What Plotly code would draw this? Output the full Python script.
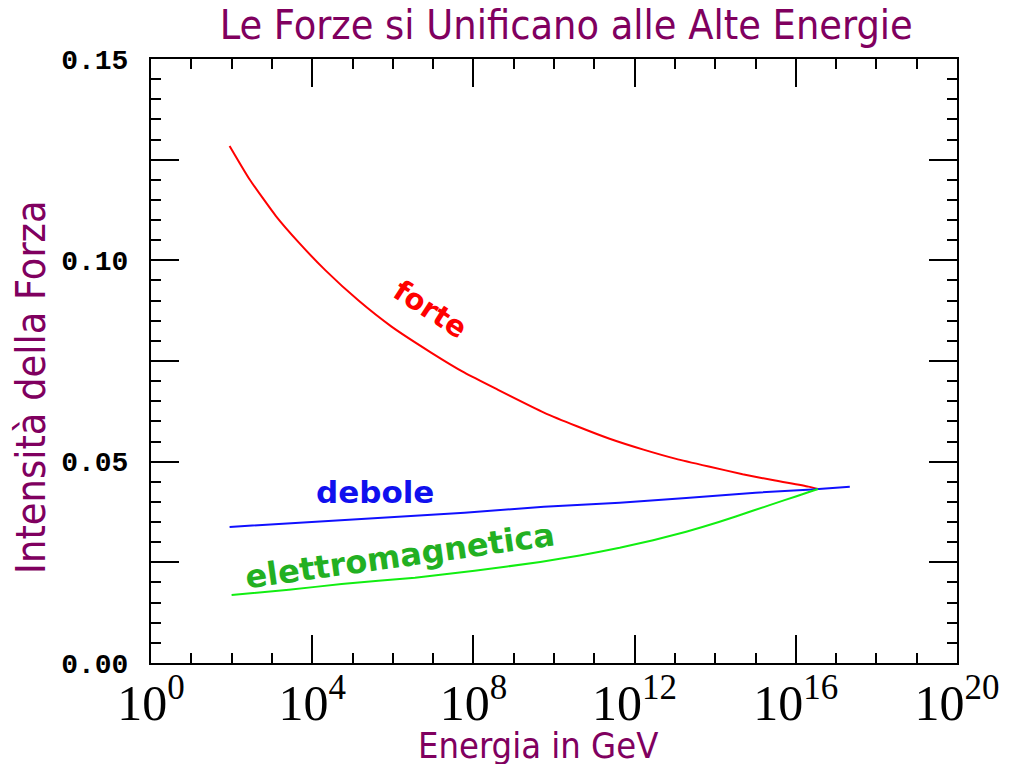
import plotly.graph_objects as go

# Energy (log10 GeV) and coupling strength readings
forte_logE = [1.95, 2.44, 3.10, 3.67, 4.33, 5.15, 5.96, 6.95, 7.78, 8.60, 9.75, 10.57, 11.38, 12.22, 13.03, 13.84, 14.68, 15.49, 16.31, 16.55]
forte_val = [0.1284, 0.1202, 0.1110, 0.1044, 0.0975, 0.0900, 0.0836, 0.0771, 0.0721, 0.0679, 0.0622, 0.0588, 0.0557, 0.0530, 0.0507, 0.0488, 0.0469, 0.0453, 0.0438, 0.0432]

debole_logE = [1.95, 3.67, 5.71, 7.78, 9.75, 11.63, 13.28, 15.00, 16.40, 17.34]
debole_val = [0.0338, 0.0348, 0.0361, 0.0373, 0.0388, 0.0398, 0.0410, 0.0423, 0.0431, 0.0438]

elettro_logE = [2.00, 3.42, 4.73, 6.55, 8.03, 9.66, 10.64, 11.63, 12.46, 13.28, 14.09, 14.93, 15.74, 16.31, 16.55]
elettro_val = [0.0169, 0.0182, 0.0196, 0.0212, 0.0229, 0.0251, 0.0267, 0.0286, 0.0305, 0.0326, 0.0350, 0.0378, 0.0405, 0.0424, 0.0432]

x_tick_exps = [0, 4, 8, 12, 16, 20]
x_tick_labels = ["10<sup>%d</sup>" % e for e in x_tick_exps]
x_minor_exps = list(range(0, 21))
y_major_vals = [0.00, 0.025, 0.05, 0.075, 0.10, 0.125, 0.15]
y_major_labels = ["0.00", "", "0.05", "", "0.10", "", "0.15"]

title_text = "Le Forze si Unificano alle Alte Energie"
x_title = "Energia in GeV"
y_title = "Intensità della Forza"

purple = "#80005f"
narrow = "Liberation Sans Narrow, DejaVu Sans Condensed, Arial Narrow, sans-serif"

fig = go.Figure()
fig.add_trace(go.Scatter(x=[10.0 ** v for v in forte_logE], y=forte_val, mode="lines",
                         line=dict(color="#ff0000", width=2, shape="spline", smoothing=0.5), name="forte"))
fig.add_trace(go.Scatter(x=[10.0 ** v for v in debole_logE], y=debole_val, mode="lines",
                         line=dict(color="#1010ff", width=2), name="debole"))
fig.add_trace(go.Scatter(x=[10.0 ** v for v in elettro_logE], y=elettro_val, mode="lines",
                         line=dict(color="#11ee11", width=2, shape="spline", smoothing=0.5), name="elettromagnetica"))

# page body adds an 8px offset; size and margins compensate for it
fig.update_layout(
    width=1004, height=756,
    margin=dict(l=143, r=49, t=51, b=101),
    paper_bgcolor="white", plot_bgcolor="white",
    showlegend=False,
    title=dict(text=title_text, x=0.556, xanchor="center", y=0.9775, yanchor="middle",
               yref="container", font=dict(family=narrow, size=41, color=purple)),
)

fig.update_xaxes(
    type="log", range=[0, 20],
    tickmode="array", tickvals=[10.0 ** e for e in x_tick_exps], ticktext=x_tick_labels,
    ticks="inside", ticklen=28, tickwidth=2, tickcolor="black",
    minor=dict(tickmode="array", tickvals=[10.0 ** e for e in x_minor_exps],
               ticks="inside", ticklen=10, tickwidth=2, tickcolor="black"),
    showline=True, linewidth=2, linecolor="black", mirror="allticks",
    showgrid=False, zeroline=False,
    ticklabelstandoff=-5,
    tickfont=dict(family="Liberation Serif, Times New Roman, serif", size=50, color="black"),
)

fig.update_yaxes(
    range=[0, 0.15],
    tickmode="array", tickvals=y_major_vals, ticktext=y_major_labels,
    ticks="inside", ticklen=28, tickwidth=2, tickcolor="black",
    minor=dict(dtick=0.005, ticks="inside", ticklen=10, tickwidth=2, tickcolor="black"),
    showline=True, linewidth=2, linecolor="black", mirror="allticks",
    showgrid=False, zeroline=False,
    ticklabelstandoff=15,
    tickfont=dict(family="Liberation Mono, DejaVu Sans Mono, monospace", size=28, color="black", weight="bold"),
)

# Axis titles
fig.add_annotation(xref="paper", yref="paper", x=0.480, y=-0.136, text=x_title, showarrow=False,
                   xanchor="center", yanchor="middle",
                   font=dict(family=narrow, size=36, color=purple))
fig.add_annotation(xref="paper", yref="paper", x=-0.149, y=0.457, text=y_title, showarrow=False,
                   textangle=-90, xanchor="center", yanchor="middle",
                   font=dict(family=narrow, size=41, color=purple))

# Curve labels (annotation x on a log axis is given in log10 units)
fig.add_annotation(x=6.92, y=0.0878, text="<b>forte</b>", showarrow=False, textangle=33,
                   font=dict(family="DejaVu Sans", size=29, color="#ff0000"))
fig.add_annotation(x=5.57, y=0.0425, text="<b>debole</b>", showarrow=False,
                   font=dict(family="DejaVu Sans", size=31, color="#1010ee"))
fig.add_annotation(x=6.18, y=0.0266, text="<b>elettromagnetica</b>", showarrow=False, textangle=-8,
                   font=dict(family="DejaVu Sans", size=32, color="#22b022"))

fig.write_html("out.html")
